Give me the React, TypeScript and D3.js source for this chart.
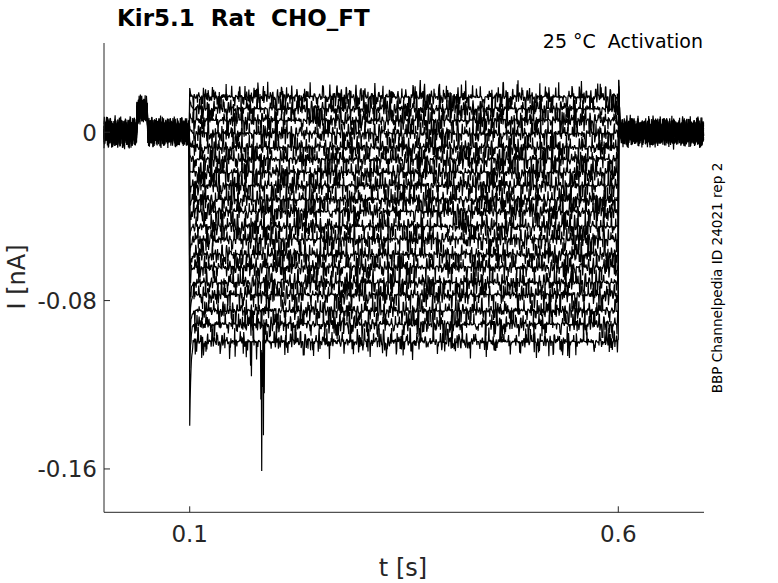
import React, { useMemo } from "react";
import * as d3 from "d3";

// steady-state current of each sweep during the step (nA)
const sweepLevels = [
  0.0168, 0.0112, 0.0057, -0.0006, -0.0072, -0.0128, -0.0191, -0.0253, -0.032, -0.0376,
  -0.0447, -0.0508, -0.0581, -0.0641, -0.0714, -0.0772, -0.0848, -0.0912, -0.0995,
];
// first sample after the step onset at 0.1 s (nA)
const onsetPeaks = [
  0.021, 0.0152, 0.0088, 0.0031, -0.0046, -0.0107, -0.0184, -0.0262, -0.0341, -0.0405,
  -0.0493, -0.0566, -0.0652, -0.0731, -0.0815, -0.0902, -0.1004, -0.1121, -0.1395,
];
// tail current just after the step end at 0.6 s (nA)
const tailPeaks = [
  0.0061, 0.0074, 0.0069, 0.0092, 0.0105, 0.0098, 0.0121, 0.0133, 0.0127, 0.0149,
  0.0158, 0.0166, 0.0181, 0.0175, 0.0196, 0.0207, 0.0214, 0.0226, 0.0233,
];
// holding current offset per sweep (nA)
const baselineOffsets = [
  0.0012, -0.0008, 0.0004, -0.0015, 0.0009, -0.0003, 0.0017, -0.0011, 0.0002, -0.0006,
  0.0014, -0.0018, 0.0007, -0.0001, 0.001, -0.0013, 0.0005, -0.0009, 0.0016,
];
// shared artefact on the holding trace around 39-50 ms
const bumpStart = 0.0385;
const bumpEnd = 0.0505;
const bumpValue = 0.0105;

// sharp downward events on the largest sweeps
const spikeSweeps = [18, 18, 18, 18, 18, 17, 17, 16, 18];
const spikeTimes = [0.171, 0.172, 0.183, 0.184, 0.185, 0.186, 0.187, 0.174, 0.178];
const spikeValues = [-0.111, -0.116, -0.127, -0.161, -0.121, -0.144, -0.124, -0.098, -0.108];

// decay shapes of the capacitive transients (per 0.5 ms sample)
const onsetDecay = [1, 0.7, 0.5, 0.35, 0.24, 0.16, 0.1, 0.06, 0.03];
const tailDecay = [1, 0.6, 0.32, 0.15, 0.06];

// recorded noise, normalised
const noiseA = [
  0.42, -0.81, 0.15, 0.93, -0.37, -0.62, 0.71, 0.08, -0.95, 0.33, 0.56, -0.24, -0.77, 0.88, -0.12, 0.47,
  -0.58, 0.02, 0.79, -0.91, 0.26, -0.43, 0.64, -0.06, -0.69, 0.97, -0.31, 0.18, -0.84, 0.52, 0.11, -0.49,
  0.73, -0.98, 0.37, 0.61, -0.15, -0.72, 0.85, -0.27, 0.04, -0.63, 0.91, -0.41, 0.29, -0.87, 0.58, 0.13,
  -0.53, 0.76, -0.09, -0.94, 0.44, 0.22, -0.66, 0.82, -0.35, 0.07, -0.78, 0.99, -0.46, 0.31, -0.19, -0.57,
  0.68, -0.83, 0.16, 0.49, -0.71, 0.94, -0.03, -0.39, 0.62, -0.89, 0.24, 0.55, -0.28, -0.74, 0.86, -0.13,
  0.39, -0.96, 0.67, 0.09, -0.51, 0.78, -0.22, -0.65, 0.93, -0.44, 0.19, -0.82, 0.57, 0.01, -0.59, 0.72, -0.34,
];
const noiseB = [
  -0.55, 0.83, -0.21, 0.39, -0.92, 0.64, 0.12, -0.47, 0.75, -0.33, -0.68, 0.96, -0.14, 0.28, -0.86, 0.51,
  0.03, -0.61, 0.89, -0.38, 0.22, -0.79, 0.66, -0.05, -0.44, 0.81, -0.97, 0.35, 0.58, -0.26, -0.73, 0.92,
  -0.17, 0.46, -0.88, 0.14, 0.69, -0.52, 0.31, -0.95, 0.77, -0.08, -0.36, 0.6, -0.84, 0.27, 0.49, -0.66,
  0.99, -0.23, -0.57, 0.71, -0.11, 0.41, -0.9, 0.18, 0.63, -0.45, 0.85, -0.29, -0.7,
];

const yTicks = [0, -0.08, -0.16];
const yTickLabels = ["0", "-0.08", "-0.16"];
const xTicks = [0.1, 0.6];
const xTickLabels = ["0.1", "0.6"];

const W = 778;
const H = 583;
const font = "'DejaVu Sans', sans-serif";
const axisColor = "#262626";

const stepOn = 0.1;
const stepOff = 0.6;
const dt = 0.0005;

type Pt = [number, number];

function buildSweep(i: number): Pt[] {
  const pts: Pt[] = [];
  const n = Math.round(0.7 / dt);
  const kOn = Math.round(stepOn / dt);
  const kOff = Math.round(stepOff / dt);
  for (let k = 0; k < n; k++) {
    const t = k * dt;
    const a = noiseA[(k * 7 + i * 29) % noiseA.length];
    const b = noiseB[(k * 3 + i * 17) % noiseB.length];
    const nz = 0.6 * a + 0.4 * b;
    // dense core with occasional large excursions
    const sPulse = Math.sign(nz) * Math.pow(Math.abs(nz), 2.1);
    const sHold = Math.sign(nz) * Math.pow(Math.abs(nz), 1.6);
    let v: number;
    if (k < kOn) {
      v = baselineOffsets[i] + sHold * 0.0072;
      if (t >= bumpStart && t <= bumpEnd) v += bumpValue;
    } else if (k <= kOff) {
      const j = k - kOn;
      v = sweepLevels[i] + sPulse * 0.0092;
      if (j < onsetDecay.length)
        v = sweepLevels[i] + onsetDecay[j] * (onsetPeaks[i] - sweepLevels[i]) + (j > 0 ? sPulse * 0.004 : 0);
      spikeSweeps.forEach((sw, si) => {
        if (sw === i && Math.abs(spikeTimes[si] - t) < dt / 2) v = spikeValues[si];
      });
    } else {
      const j = k - kOff - 1;
      v = baselineOffsets[i] + sHold * 0.0072;
      if (j < tailDecay.length) v += tailDecay[j] * tailPeaks[i];
    }
    pts.push([t, v]);
  }
  return pts;
}

export default function App() {
  const x = d3.scaleLinear().domain([0, 0.7]).range([104, 704]);
  const y = d3.scaleLinear().domain([0.0424, -0.1806]).range([43, 512.3]);

  const paths = useMemo(() => {
    const line = d3
      .line<Pt>()
      .x((d) => x(d[0]))
      .y((d) => y(d[1]));
    return sweepLevels.map((_, i) => line(buildSweep(i)) as string);
  }, []);

  const x0 = x.range()[0];
  const x1 = x.range()[1];
  const y0 = y.range()[1];
  const yTop = y.range()[0];

  return (
    <div style={{ position: "absolute", left: 0, top: 0 }}>
      <svg width={W} height={H} style={{ display: "block", background: "#fff" }}>
        <g>
          {paths.map((d, i) => (
            <path key={i} d={d} fill="none" stroke="#000" strokeWidth={1.2} strokeLinejoin="bevel" />
          ))}
        </g>

        {/* axes */}
        <line x1={x0} x2={x0} y1={yTop} y2={y0} stroke={axisColor} strokeWidth={1} />
        <line x1={x0} x2={x1} y1={y0} y2={y0} stroke={axisColor} strokeWidth={1} />
        {yTicks.map((v, i) => (
          <g key={"y" + i}>
            <line x1={x0} x2={x0 + 6} y1={y(v)} y2={y(v)} stroke={axisColor} strokeWidth={1} />
            <text
              x={97}
              y={y(v)}
              dy="0.36em"
              textAnchor="end"
              fontFamily={font}
              fontSize={23}
              fill={axisColor}
            >
              {yTickLabels[i]}
            </text>
          </g>
        ))}
        {xTicks.map((v, i) => (
          <g key={"x" + i}>
            <line x1={x(v)} x2={x(v)} y1={y0} y2={y0 - 6} stroke={axisColor} strokeWidth={1} />
            <text x={x(v)} y={542} textAnchor="middle" fontFamily={font} fontSize={23} fill={axisColor}>
              {xTickLabels[i]}
            </text>
          </g>
        ))}

        {/* axis labels */}
        <text x={403} y={576} textAnchor="middle" fontFamily={font} fontSize={24} fill={axisColor}>
          t [s]
        </text>
        <text
          transform="translate(25,277) rotate(-90)"
          textAnchor="middle"
          fontFamily={font}
          fontSize={24}
          fill={axisColor}
        >
          I [nA]
        </text>

        {/* titles */}
        <text
          x={117}
          y={26}
          fontFamily={font}
          fontSize={23}
          fontWeight="bold"
          fill="#000"
          style={{ whiteSpace: "pre" }}
        >
          {"Kir5.1  Rat  CHO_FT"}
        </text>
        <text
          x={703}
          y={48}
          textAnchor="end"
          fontFamily={font}
          fontSize={19}
          fill="#000"
          style={{ whiteSpace: "pre" }}
        >
          {"25 °C  Activation"}
        </text>
        <text
          transform="translate(722,278) rotate(-90)"
          textAnchor="middle"
          fontFamily={font}
          fontSize={13.6}
          fill="#000"
        >
          BBP Channelpedia ID 24021 rep 2
        </text>
      </svg>
    </div>
  );
}
